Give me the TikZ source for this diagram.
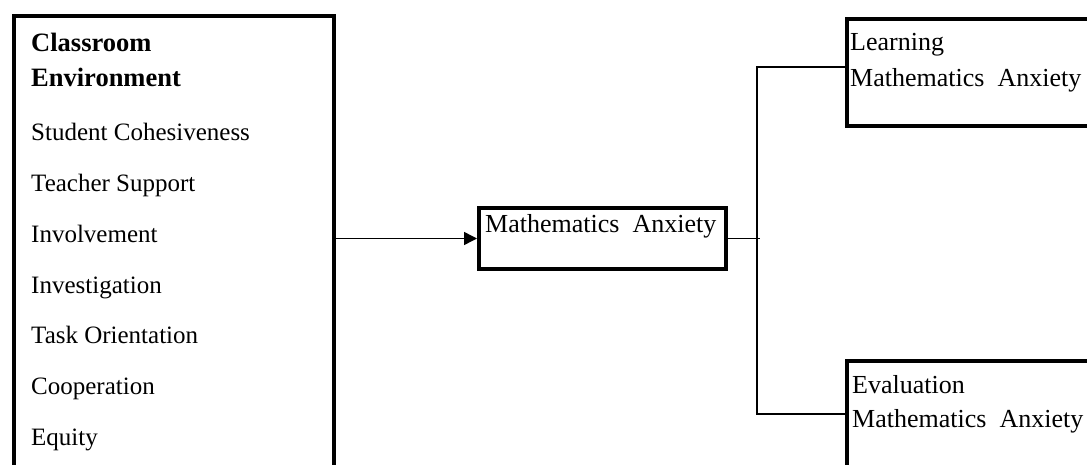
\documentclass[tikz,border=0pt]{standalone}
\usepackage{fontspec}
\setmainfont{Liberation Serif}
\usetikzlibrary{arrows.meta,positioning,calc}

\begin{document}
\begin{tikzpicture}[
    x=1pt, y=-1pt,
    box/.style={draw, line width=4pt, rectangle, anchor=north west, inner sep=0},
    item/.style={anchor=base west, inner sep=0, font=\fontsize{25}{30}\selectfont},
    head/.style={anchor=base west, inner sep=0, font=\fontsize{26.5}{32}\selectfont\bfseries},
    txt/.style={anchor=base west, inner sep=0, font=\fontsize{26}{31}\selectfont},
    link/.style={line width=1.5pt},
    arr/.style={line width=1.5pt, -{Triangle[length=13pt, width=13pt]}}
]
    \clip (0,0) rectangle (1087,465);

    % Boxes
    \node[box, minimum width=320, minimum height=451] (env) at (12,14) {};
    \node[box, minimum width=247, minimum height=61] (mid) at (477,206) {};
    \node[box, minimum width=260, minimum height=107] (learn) at (845,17) {};
    \node[box, minimum width=260, minimum height=130] (eval) at (845,359) {};

    % Left box texts
    \node[head] (h1) at (31,52) {Classroom};
    \node[head] (h2) at (31,87) {Environment};
    \foreach \t [count=\i] in {Student Cohesiveness, Teacher Support, Involvement,
        Investigation, Task Orientation, Cooperation, Equity} {
        \pgfmathsetmacro{\y}{141 + (\i-1)*50.7}
        \node[item] (it\i) at (31,\y) {\t};
    }

    % Other texts
    \node[txt] (midtxt) at (485,233) {Mathematics\ \ Anxiety};
    \node[txt] (learn1) at (850,51) {Learning};
    \node[txt] (learn2) at (850,87) {Mathematics\ \ Anxiety};
    \node[txt] (eval1) at (852,393) {Evaluation};
    \node[txt] (eval2) at (852,427) {Mathematics\ \ Anxiety};

    % Connectors
    \coordinate (jt) at (757,67);
    \coordinate (jb) at (757,414);
    \coordinate (stub) at (760,236.5);
    \draw[arr] (env.east |- mid.west) -- (mid.west);
    \draw[link] (mid.east) -- (stub |- mid.east);
    \draw[link] (learn.west |- jt) -- (jt) -- (jb) -- (eval.west |- jb);
\end{tikzpicture}
\end{document}
